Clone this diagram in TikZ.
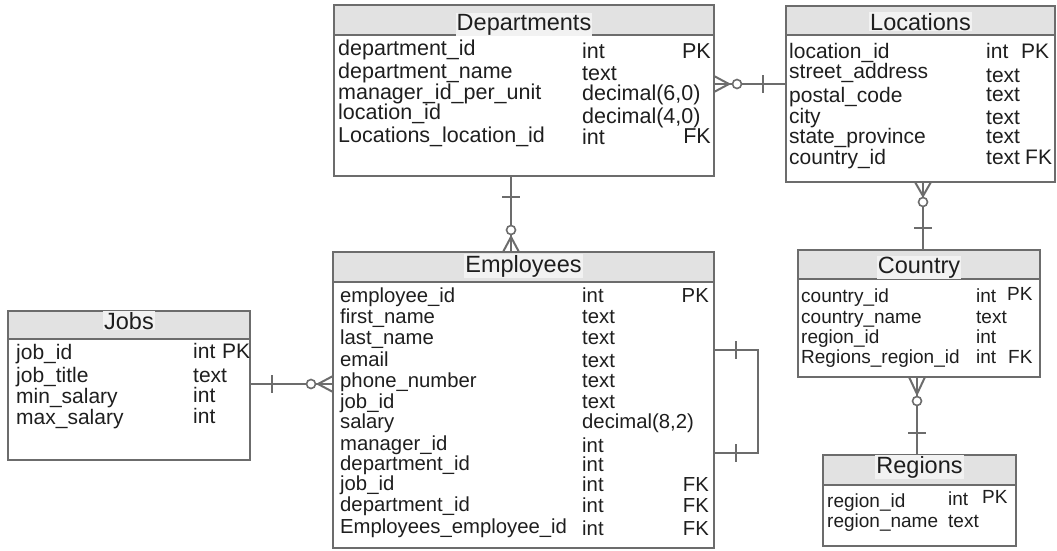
\documentclass[tikz,border=0pt]{standalone}
\usepackage{fontspec}
\setmainfont{Liberation Sans}
\usetikzlibrary{calc}
\definecolor{bord}{HTML}{6C6C6C}
\definecolor{head}{HTML}{E2E2E2}
\definecolor{headlt}{HTML}{F2F2F2}
\definecolor{txt}{HTML}{1E1E1E}
\newcommand\fHead{\fontsize{23.5}{24}\selectfont}
\newcommand\fDep{\fontsize{21.5}{22}\selectfont}
\newcommand\fLoc{\fontsize{21}{22}\selectfont}
\newcommand\fEmp{\fontsize{20.3}{21}\selectfont}
\newcommand\fJob{\fontsize{21}{22}\selectfont}
\newcommand\fCty{\fontsize{19}{20}\selectfont}
\begin{document}
\begin{tikzpicture}[x=1pt,y=-1pt,
  box/.style={draw=bord,line width=2.2pt,inner sep=0pt,outer sep=0pt,anchor=north west},
  sepline/.style={draw=bord,line width=1.6pt},
  ttl/.style={font=\fHead,text=txt,anchor=base,inner sep=1pt,fill=headlt},
  fld/.style={text=txt,anchor=base west,inner sep=0pt},
  fldr/.style={text=txt,anchor=base east,inner sep=0pt},
  conn/.style={draw=bord,line width=2pt},
  ring/.style={draw=bord,line width=1.6pt,fill=white},
]
\useasboundingbox (0,0) rectangle (1057,550);

% ---------------- Departments
\fill[head] (334,5) rectangle (714,35);
\draw[sepline] (334,35) -- (714,35);
\node[box,minimum width=380pt,minimum height=171pt] (dep) at (334,5) {};
\node[ttl] (depT) at (524,30) {Departments};
\foreach \nmA/\yA/\tpA/\yB [count=\i] in {
 department\_id/55/int/58,
 department\_name/78/text/80,
 manager\_id\_per\_unit/99/{decimal(6,0)}/100,
 location\_id/119/{decimal(4,0)}/123,
 Locations\_location\_id/142/int/144}
{\node[fld,font=\fDep] (dn\i) at (338,\yA) {\nmA};
 \node[fld,font=\fDep] (dt\i) at (582,\yB) {\tpA};}
\node[fldr,font=\fDep] (dk1) at (711,58) {PK};
\node[fldr,font=\fDep] (dk2) at (711,143) {FK};

% ---------------- Locations
\fill[head] (786,6) rectangle (1055,35);
\draw[sepline] (786,35) -- (1055,35);
\node[box,minimum width=269pt,minimum height=176pt] (loc) at (786,6) {};
\node[ttl] (locT) at (920.5,30) {Locations};
\foreach \nmA/\yA/\tpA/\yB [count=\i] in {
 location\_id/58/int/58,
 street\_address/78/text/82,
 postal\_code/102/text/101,
 city/123/text/124,
 state\_province/143/text/143,
 country\_id/164/text/164}
{\node[fld,font=\fLoc] (ln\i) at (789,\yA) {\nmA};
 \node[fld,font=\fLoc] (lt\i) at (986,\yB) {\tpA};}
\node[fld,font=\fLoc] (lk1) at (1021,58) {PK};
\node[fld,font=\fLoc] (lk2) at (1025,164) {FK};

% ---------------- Employees
\fill[head] (333,252) rectangle (714,282);
\draw[sepline] (333,282) -- (714,282);
\node[box,minimum width=381pt,minimum height=296pt] (emp) at (333,252) {};
\node[ttl] (empT) at (523.5,272) {Employees};
\foreach \nmA/\yA/\tpA/\yB [count=\i] in {
 employee\_id/302/int/302,
 first\_name/323/text/323,
 last\_name/344/text/344,
 email/366/text/367,
 phone\_number/387/text/387,
 job\_id/408/text/408,
 salary/428/{decimal(8,2)}/428,
 manager\_id/450/int/452,
 department\_id/470/int/471,
 job\_id/490/int/491,
 department\_id/511/int/512,
 Employees\_employee\_id/533/int/535}
{\node[fld,font=\fEmp] (en\i) at (340,\yA) {\nmA};
 \node[fld,font=\fEmp] (et\i) at (582,\yB) {\tpA};}
\node[fldr,font=\fEmp] (ek1) at (709,302) {PK};
\node[fldr,font=\fEmp] (ek2) at (709,491) {FK};
\node[fldr,font=\fEmp] (ek3) at (709,512) {FK};
\node[fldr,font=\fEmp] (ek4) at (709,535) {FK};

% ---------------- Jobs
\fill[head] (8,311) rectangle (250,339);
\draw[sepline] (8,339) -- (250,339);
\node[box,minimum width=242pt,minimum height=149pt] (jobs) at (8,311) {};
\node[ttl] (jobT) at (129,329) {Jobs};
\foreach \nmA/\yA/\tpA/\yB [count=\i] in {
 job\_id/359/int/358,
 job\_title/382/text/382,
 min\_salary/403/int/402,
 max\_salary/424/int/423}
{\node[fld,font=\fJob] (jn\i) at (16,\yA) {\nmA};
 \node[fld,font=\fJob] (jt\i) at (193,\yB) {\tpA};}
\node[fld,font=\fJob] (jk1) at (222,358) {PK};

% ---------------- Country
\fill[head] (798,250) rectangle (1040,279);
\draw[sepline] (798,279) -- (1040,279);
\node[box,minimum width=242pt,minimum height=127pt] (cty) at (798,250) {};
\node[ttl] (ctyT) at (919,273) {Country};
\foreach \nmA/\yA/\tpA/\yB [count=\i] in {
 country\_id/302/int/302,
 country\_name/323/text/323,
 region\_id/343/int/343,
 Regions\_region\_id/363/int/363}
{\node[fld,font=\fCty] (cn\i) at (801,\yA) {\nmA};
 \node[fld,font=\fCty] (ct\i) at (976,\yB) {\tpA};}
\node[fld,font=\fCty] (ck1) at (1007,300) {PK};
\node[fld,font=\fCty] (ck2) at (1008,363) {FK};

% ---------------- Regions
\fill[head] (823,455) rectangle (1016,485);
\draw[sepline] (823,485) -- (1016,485);
\node[box,minimum width=193pt,minimum height=91pt] (reg) at (823,455) {};
\node[ttl] (regT) at (919.5,473) {Regions};
\node[fld,font=\fCty] (rn1) at (827,507) {region\_id};
\node[fld,font=\fCty] (rn2) at (827,527) {region\_name};
\node[fld,font=\fCty] (rt1) at (948,505) {int};
\node[fld,font=\fCty] (rt2) at (948,527) {text};
\node[fld,font=\fCty] (rk1) at (982,503) {PK};

% ---------------- Connectors
% Departments (many) -- Locations (one)
\coordinate (a1) at (dep.east |- 0,84);
\coordinate (b1) at (loc.west |- 0,84);
\draw[conn] (a1) -- (b1);
\draw[conn] ($(a1)+(0,-8)$) -- ($(a1)+(15,0)$) -- ($(a1)+(0,8)$);
\draw[ring] ($(a1)+(23,0)$) circle[radius=4.5pt];
\draw[conn] ($(b1)+(-23,-9)$) -- ($(b1)+(-23,9)$);

% Departments (one) -- Employees (many)
\coordinate (a2) at (dep.south -| 511,0);
\coordinate (b2) at (emp.north -| 511,0);
\draw[conn] (a2) -- (b2);
\draw[conn] ($(a2)+(-9,21)$) -- ($(a2)+(9,21)$);
\draw[conn] ($(b2)+(-8,0)$) -- ($(b2)+(0,-15)$) -- ($(b2)+(8,0)$);
\draw[ring] ($(b2)+(0,-22)$) circle[radius=4.5pt];

% Jobs (one) -- Employees (many)
\coordinate (a3) at (jobs.east |- 0,384);
\coordinate (b3) at (emp.west |- 0,384);
\draw[conn] (a3) -- (b3);
\draw[conn] ($(a3)+(22,-9)$) -- ($(a3)+(22,9)$);
\draw[conn] ($(b3)+(0,-8)$) -- ($(b3)+(-15,0)$) -- ($(b3)+(0,8)$);
\draw[ring] ($(b3)+(-22,0)$) circle[radius=4.5pt];

% Locations (many) -- Country (one)
\coordinate (a4) at (loc.south -| 923,0);
\coordinate (b4) at (cty.north -| 923,0);
\draw[conn] (a4) -- (b4);
\draw[conn] ($(a4)+(-8,0)$) -- ($(a4)+(0,14)$) -- ($(a4)+(8,0)$);
\draw[ring] ($(a4)+(0,20)$) circle[radius=4.5pt];
\draw[conn] ($(b4)+(-9,-22)$) -- ($(b4)+(9,-22)$);

% Country (many) -- Regions (one)
\coordinate (a5) at (cty.south -| 917,0);
\coordinate (b5) at (reg.north -| 917,0);
\draw[conn] (a5) -- (b5);
\draw[conn] ($(a5)+(-8,0)$) -- ($(a5)+(0,17)$) -- ($(a5)+(8,0)$);
\draw[ring] ($(a5)+(0,24)$) circle[radius=4.5pt];
\draw[conn] ($(b5)+(-9,-22)$) -- ($(b5)+(9,-22)$);

% Employees self reference
\coordinate (a6) at (emp.east |- 0,350);
\coordinate (b6) at (emp.east |- 0,453);
\draw[conn] (a6) -- ++(44,0) |- (b6);
\draw[conn] ($(a6)+(22,-9)$) -- ($(a6)+(22,9)$);
\draw[conn] ($(b6)+(22,-9)$) -- ($(b6)+(22,9)$);
\end{tikzpicture}
\end{document}
